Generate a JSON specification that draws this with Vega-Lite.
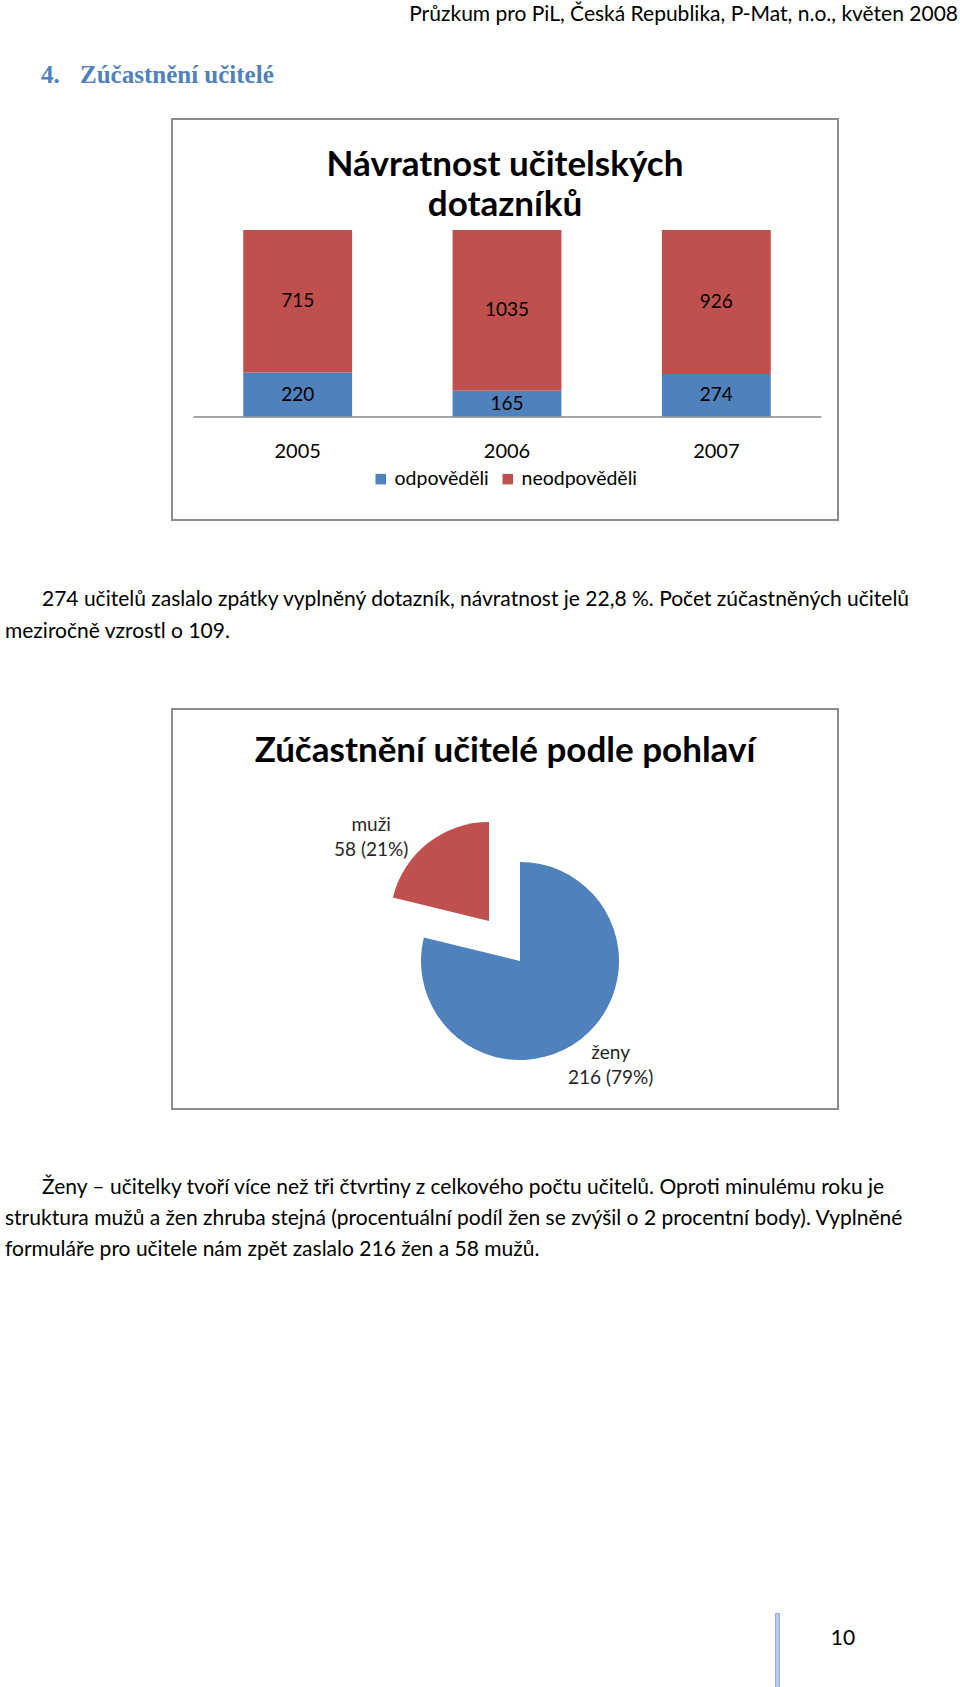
{
  "$schema": "https://vega.github.io/schema/vega-lite/v6.json",
  "background": "white",
  "padding": 0,
  "spacing": 0,
  "config": {
    "view": {"stroke": null},
    "font": "Lato",
    "concat": {"spacing": 0}
  },
  "resolve": {"scale": {"color": "independent"}, "legend": {"color": "independent"}},
  "vconcat": [
    {
      "width": 960, "height": 26,
      "data": {"values": [{"text": "Průzkum pro PiL, Česká Republika, P-Mat, n.o., květen 2008"}]},
      "mark": {"type": "text", "align": "right", "baseline": "middle", "fontSize": 21, "color": "#000000", "dx": -2, "dy": 2},
      "encoding": {
        "x": {"datum": 1, "type": "quantitative", "scale": {"domain": [0, 1]}, "axis": null},
        "text": {"field": "text"}
      }
    },
    {
      "width": 960, "height": 92,
      "data": {"values": [{"num": "4.", "text": "Zúčastnění učitelé"}]},
      "encoding": {
        "x": {"datum": 0, "type": "quantitative", "scale": {"domain": [0, 1]}, "axis": null}
      },
      "layer": [
        {"mark": {"type": "text", "align": "left", "baseline": "middle", "font": "Liberation Serif", "fontWeight": "bold", "fontSize": 25, "color": "#4F81BD", "dx": 41, "dy": 3},
         "encoding": {"text": {"field": "num"}}},
        {"mark": {"type": "text", "align": "left", "baseline": "middle", "font": "Liberation Serif", "fontWeight": "bold", "fontSize": 25, "color": "#4F81BD", "dx": 80, "dy": 3},
         "encoding": {"text": {"field": "text"}}}
      ]
    },
    {
      "resolve": {"scale": {"color": "independent"}, "legend": {"color": "independent"}},
      "hconcat": [
        {"width": 171, "height": 401, "data": {"values": [{}]}, "mark": {"type": "point", "opacity": 0, "size": 0}, "encoding": {}},
        {
          "width": 666, "height": 401,
          "view": {"stroke": "#8c8c8c", "strokeWidth": 2},
          "title": {"text": ["Návratnost učitelských", "dotazníků"], "fontSize": 35, "fontWeight": "bold", "font": "Lato", "color": "#000000", "lineHeight": 40, "anchor": "middle", "frame": "group", "offset": -104},
          "data": {"values": [
            {"year": "2005", "series": "odpověděli", "count": 220},
            {"year": "2005", "series": "neodpověděli", "count": 715},
            {"year": "2006", "series": "odpověděli", "count": 165},
            {"year": "2006", "series": "neodpověděli", "count": 1035},
            {"year": "2007", "series": "odpověděli", "count": 274},
            {"year": "2007", "series": "neodpověděli", "count": 926}
          ]},
          "transform": [
            {"stack": "count", "groupby": ["year"], "sort": [{"field": "series", "order": "descending"}], "offset": "normalize", "as": ["y0", "y1"]},
            {"calculate": "(datum.y0 + datum.y1) / 2", "as": "ymid"}
          ],
          "encoding": {
            "x": {"field": "year", "type": "ordinal",
                  "scale": {"range": [21, 649], "paddingInner": 0.48, "paddingOuter": 0.24},
                  "axis": {"title": null, "orient": "bottom", "offset": -103.5, "domainColor": "#868686", "domainWidth": 1.5, "ticks": false, "tickSize": 0, "labelPadding": 25, "labelFontSize": 20, "labelColor": "#000000", "labelFont": "Lato", "labelAngle": 0}}
          },
          "layer": [
            {
              "mark": {"type": "bar"},
              "encoding": {
                "y": {"field": "y0", "type": "quantitative", "scale": {"domain": [-0.555, 1.595], "nice": false, "zero": false}, "axis": null},
                "y2": {"field": "y1"},
                "color": {"field": "series", "type": "nominal",
                          "scale": {"domain": ["odpověděli", "neodpověděli"], "range": ["#4F81BD", "#C0504D"]},
                          "legend": {"title": null, "orient": "none", "legendX": 199, "legendY": 350, "direction": "horizontal", "columns": 2, "symbolType": "square", "symbolSize": 110, "symbolStrokeWidth": 0, "labelFontSize": 19.5, "labelColor": "#000000", "labelFont": "Lato", "padding": 0, "columnPadding": 9, "labelOffset": 4}}
              }
            },
            {
              "mark": {"type": "text", "fontSize": 19, "color": "#000000", "baseline": "middle"},
              "encoding": {
                "y": {"field": "ymid", "type": "quantitative", "scale": {"domain": [-0.555, 1.595], "nice": false, "zero": false}, "axis": null},
                "text": {"field": "count", "type": "quantitative"}
              }
            }
          ]
        }
      ]
    },
    {
      "vconcat": [
        {"width": 960, "height": 63, "data": {"values": [{}]}, "mark": {"type": "point", "opacity": 0, "size": 0}, "encoding": {}},
        {
          "width": 960, "height": 64,
          "data": {"values": [
            {"line": 1, "text": "274 učitelů zaslalo zpátky vyplněný dotazník, návratnost je 22,8 %. Počet zúčastněných učitelů"},
            {"line": 2, "text": "meziročně vzrostl o 109."}
          ]},
          "encoding": {
            "x": {"datum": 0, "type": "quantitative", "scale": {"domain": [0, 1]}, "axis": null},
            "y": {"field": "line", "type": "ordinal", "axis": null},
            "text": {"field": "text"}
          },
          "layer": [
            {"transform": [{"filter": "datum.line == 1"}], "mark": {"type": "text", "align": "left", "baseline": "middle", "fontSize": 21, "color": "#000000", "dx": 42}},
            {"transform": [{"filter": "datum.line > 1"}], "mark": {"type": "text", "align": "left", "baseline": "middle", "fontSize": 21, "color": "#000000", "dx": 5}}
          ]
        },
        {"width": 960, "height": 60, "data": {"values": [{}]}, "mark": {"type": "point", "opacity": 0, "size": 0}, "encoding": {}}
      ]
    },
    {
      "resolve": {"scale": {"color": "independent"}, "legend": {"color": "independent"}},
      "hconcat": [
        {"width": 171, "height": 400, "data": {"values": [{}]}, "mark": {"type": "point", "opacity": 0, "size": 0}, "encoding": {}},
        {
          "width": 666, "height": 400,
          "view": {"stroke": "#8c8c8c", "strokeWidth": 2},
          "title": {"text": "Zúčastnění učitelé podle pohlaví", "fontSize": 35, "fontWeight": "bold", "font": "Lato", "color": "#000000", "anchor": "middle", "frame": "group", "offset": -60},
          "data": {"values": [
            {"gender": "ženy", "count": 216, "label": "ženy\n216 (79%)"},
            {"gender": "muži", "count": 58, "label": "muži\n58 (21%)"}
          ]},
          "transform": [
            {"stack": "count", "groupby": [], "sort": [{"field": "count", "order": "descending"}], "offset": "normalize", "as": ["t0", "t1"]},
            {"calculate": "(datum.t0 + datum.t1) / 2", "as": "tmid"}
          ],
          "layer": [
            {
              "transform": [{"filter": "datum.gender == 'ženy'"}],
              "mark": {"type": "arc", "outerRadius": 99, "xOffset": 15, "yOffset": 52},
              "encoding": {
                "theta": {"field": "t0", "type": "quantitative", "scale": {"domain": [0, 1]}},
                "theta2": {"field": "t1"},
                "color": {"field": "gender", "type": "nominal", "scale": {"domain": ["ženy", "muži"], "range": ["#4F81BD", "#C0504D"]}, "legend": null}
              }
            },
            {
              "transform": [{"filter": "datum.gender == 'muži'"}],
              "mark": {"type": "arc", "outerRadius": 99, "xOffset": -16, "yOffset": 12},
              "encoding": {
                "theta": {"field": "t0", "type": "quantitative", "scale": {"domain": [0, 1]}},
                "theta2": {"field": "t1"},
                "color": {"field": "gender", "type": "nominal", "scale": {"domain": ["ženy", "muži"], "range": ["#4F81BD", "#C0504D"]}, "legend": null}
              }
            },
            {
              "transform": [{"filter": "datum.gender == 'ženy'"}],
              "mark": {"type": "text", "radius": 142, "dx": 18, "dy": 32, "lineBreak": "\n", "lineHeight": 25, "fontSize": 19, "color": "#262626", "baseline": "middle"},
              "encoding": {
                "theta": {"field": "tmid", "type": "quantitative", "scale": {"domain": [0, 1]}},
                "text": {"field": "label"}
              }
            },
            {
              "transform": [{"filter": "datum.gender == 'muži'"}],
              "mark": {"type": "text", "radius": 144, "dx": -45, "dy": 29, "lineBreak": "\n", "lineHeight": 25, "fontSize": 19, "color": "#262626", "baseline": "middle"},
              "encoding": {
                "theta": {"field": "tmid", "type": "quantitative", "scale": {"domain": [0, 1]}},
                "text": {"field": "label"}
              }
            }
          ]
        }
      ]
    },
    {
      "vconcat": [
        {"width": 960, "height": 62, "data": {"values": [{}]}, "mark": {"type": "point", "opacity": 0, "size": 0}, "encoding": {}},
        {
          "width": 960, "height": 93,
          "data": {"values": [
            {"line": 1, "text": "Ženy – učitelky tvoří více než tři čtvrtiny z celkového počtu učitelů. Oproti minulému roku je"},
            {"line": 2, "text": "struktura mužů a žen zhruba stejná (procentuální podíl žen se zvýšil o 2 procentní body). Vyplněné"},
            {"line": 3, "text": "formuláře pro učitele nám zpět zaslalo 216 žen a 58 mužů."}
          ]},
          "encoding": {
            "x": {"datum": 0, "type": "quantitative", "scale": {"domain": [0, 1]}, "axis": null},
            "y": {"field": "line", "type": "ordinal", "axis": null},
            "text": {"field": "text"}
          },
          "layer": [
            {"transform": [{"filter": "datum.line == 1"}], "mark": {"type": "text", "align": "left", "baseline": "middle", "fontSize": 21, "color": "#000000", "dx": 42}},
            {"transform": [{"filter": "datum.line > 1"}], "mark": {"type": "text", "align": "left", "baseline": "middle", "fontSize": 21, "color": "#000000", "dx": 5}}
          ]
        },
        {"width": 960, "height": 347, "data": {"values": [{}]}, "mark": {"type": "point", "opacity": 0, "size": 0}, "encoding": {}}
      ]
    },
    {
      "hconcat": [
        {"width": 774, "height": 76, "data": {"values": [{}]}, "mark": {"type": "point", "opacity": 0, "size": 0}, "encoding": {}},
        {"width": 4, "height": 76, "view": {"fill": "#b8cce4", "stroke": "#95b3d7", "strokeWidth": 1}, "data": {"values": [{}]}, "mark": {"type": "point", "opacity": 0, "size": 0}, "encoding": {}},
        {
          "width": 126, "height": 52,
          "data": {"values": [{"page": "10"}]},
          "mark": {"type": "text", "fontSize": 21, "color": "#000000", "baseline": "middle"},
          "encoding": {"text": {"field": "page"}}
        }
      ]
    }
  ]
}
